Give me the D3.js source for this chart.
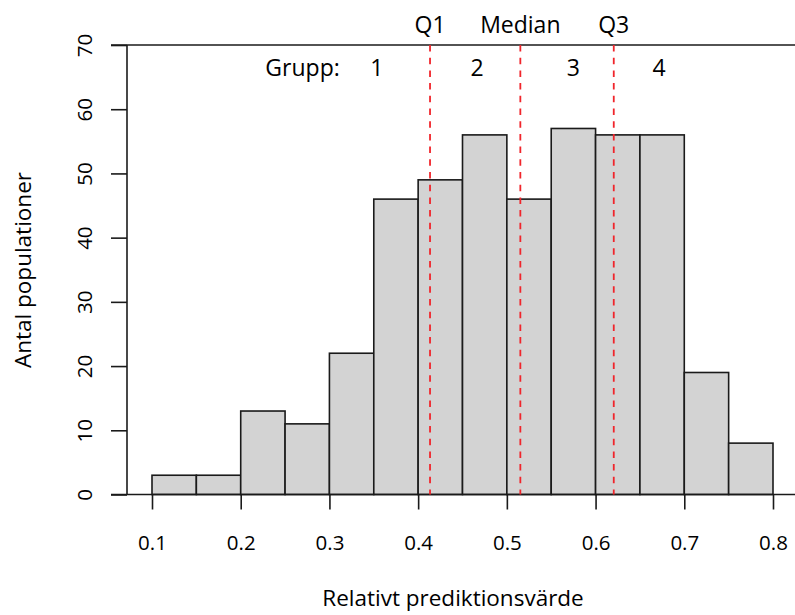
<!DOCTYPE html>
<html><head><meta charset="utf-8">
<script src="https://cdn.jsdelivr.net/npm/d3@7"></script>
<style>body{margin:0;background:#fff}text{font-family:"Open Sans",sans-serif;fill:#000}</style>
</head><body><svg id="c" width="795" height="615"></svg>
<script>
const binStarts = [0.10,0.15,0.20,0.25,0.30,0.35,0.40,0.45,0.50,0.55,0.60,0.65,0.70,0.75];
const binWidth = 0.05;
const counts = [3,3,13,11,22,46,49,56,46,57,56,56,19,8];
const xTicks = [0.1,0.2,0.3,0.4,0.5,0.6,0.7,0.8];
const yTicks = [0,10,20,30,40,50,60,70];
const quartileNames = ["Q1","Median","Q3"];
const quartileValues = [0.4134,0.5152,0.6205];
const groupLabels = ["Grupp:","1","2","3","4"];
const groupPos = [0.2697,0.3533,0.4664,0.5748,0.6715];
const xTitle = "Relativt prediktionsvärde";
const yTitle = "Antal populationer";

const svg = d3.select("#c");
const x = d3.scaleLinear().domain([0.1,0.8]).range([152,773]);
const y = d3.scaleLinear().domain([0,70]).range([494.5,45]);

// bars
svg.append("g").selectAll("rect").data(counts).join("rect")
  .attr("x",(d,i)=>x(binStarts[i]))
  .attr("width",(d,i)=>x(binStarts[i]+binWidth)-x(binStarts[i]))
  .attr("y",d=>y(d)).attr("height",d=>y(0)-y(d))
  .attr("fill","#d3d3d3").attr("stroke","#1a1a1a").attr("stroke-width",1.6);

// horizontal reference lines at 0 and 70
svg.append("g").selectAll("line").data([0,70]).join("line")
  .attr("x1",111).attr("x2",795).attr("y1",d=>y(d)).attr("y2",d=>y(d))
  .attr("stroke","#1a1a1a").attr("stroke-width",1.6);

// y axis
const ya = svg.append("g").attr("transform","translate(127,0)")
  .call(d3.axisLeft(y).tickValues(yTicks).tickSize(16).tickPadding(0).tickFormat(d3.format("d")));
ya.select(".domain").attr("stroke","#1a1a1a").attr("stroke-width",1.6).attr("d","M0,"+y(0)+"V"+y(70));
ya.selectAll(".tick line").attr("stroke","#1a1a1a").attr("stroke-width",1.6);
ya.selectAll(".tick text").attr("x",0).attr("dy",null).attr("transform","translate(-35,0) rotate(-90)")
  .attr("text-anchor","middle").attr("font-size",20.5).style("font-family","'Open Sans',sans-serif");

// x axis
const xa = svg.append("g").attr("transform","translate(0,"+y(0)+")")
  .call(d3.axisBottom(x).tickValues(xTicks).tickSize(15).tickPadding(0).tickFormat(d3.format(".1f")));
xa.select(".domain").remove();
xa.selectAll(".tick line").attr("stroke","#1a1a1a").attr("stroke-width",1.6);
xa.selectAll(".tick text").attr("y",55).attr("dy",null).attr("font-size",20.5).style("font-family","'Open Sans',sans-serif");

// quartile lines
svg.append("g").selectAll("line").data(quartileValues).join("line")
  .attr("x1",d=>x(d)).attr("x2",d=>x(d)).attr("y1",y(70)).attr("y2",y(0))
  .attr("stroke","#f0252b").attr("stroke-width",1.8).attr("stroke-dasharray","6.5,6.2");
svg.append("g").selectAll("text").data(quartileNames).join("text")
  .attr("x",(d,i)=>x(quartileValues[i])).attr("y",33).attr("text-anchor","middle")
  .attr("font-size",23).text(d=>d);
svg.append("g").selectAll("text").data(groupLabels).join("text")
  .attr("x",(d,i)=>x(groupPos[i])).attr("y",76).attr("text-anchor","middle")
  .attr("font-size",23).text(d=>d);

// titles
svg.append("text").attr("x",453).attr("y",606).attr("text-anchor","middle").attr("font-size",22.5).text(xTitle);
svg.append("text").attr("transform","translate(31,270) rotate(-90)").attr("text-anchor","middle").attr("font-size",22.5).text(yTitle);
</script></body></html>
